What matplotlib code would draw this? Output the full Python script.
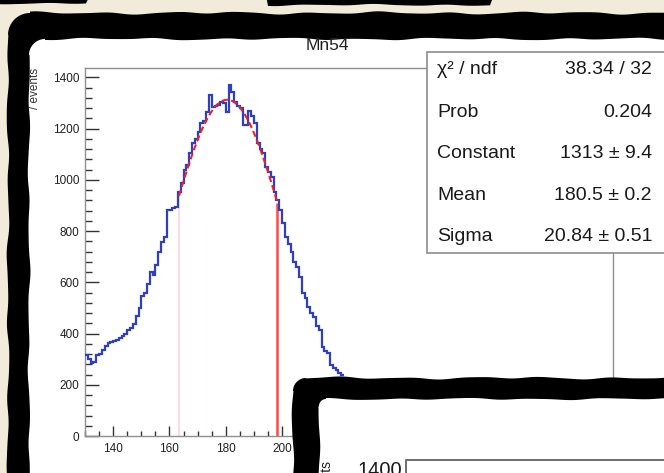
import numpy as np
import matplotlib
matplotlib.use("Agg")
import matplotlib.pyplot as plt
from matplotlib.patches import Polygon, Rectangle
from matplotlib.ticker import MultipleLocator

# ---------------- data ----------------
title = "Mn54"
bin_lo = 130          # first bin lower edge
bin_width = 1
counts = [316, 300, 285, 290, 318, 322, 335, 350, 362, 368,
          372, 374, 382, 392, 398, 412, 420, 437, 470, 500,
          548, 560, 592, 640, 628, 668, 718, 757, 776, 881,
          884, 889, 893, 952, 987, 1037, 1060, 1104, 1143, 1160,
          1186, 1221, 1230, 1264, 1330, 1283, 1290, 1291, 1303, 1300,
          1264, 1369, 1342, 1303, 1290, 1279, 1213, 1213, 1271, 1250,
          1221, 1143, 1120, 1104, 1049, 1030, 1010, 952, 920, 881,
          831, 776, 750, 718, 680, 659, 620, 558, 540, 503,
          480, 464, 430, 413, 347, 330, 324, 277, 265, 257,
          246, 240]
fit_constant = 1313
fit_mean = 180.5
fit_sigma = 20.84
fit_range = [163.4, 198.3]
stats_labels = ["χ² / ndf", "Prob", "Constant", "Mean", "Sigma"]
stats_values = ["38.34 / 32", "0.204", "1313 ± 9.4", "180.5 ± 0.2", "20.84 ± 0.51"]
x_ticks = [140, 160, 180, 200, 220, 240, 260, 280, 300]
y_ticks = [0, 200, 400, 600, 800, 1000, 1200, 1400]
y_title = "/ events"
panel2_label = "1400"
panel2_ytitle = "counts"

W, H = 664, 473
BEIGE = "#f3ebda"
BLUE = "#2f3fc2"
RED = "#ee2222"

fig = plt.figure(figsize=(W / 100, H / 100), dpi=100, facecolor=BEIGE)

def px_axes(zorder):
    a = fig.add_axes([0, 0, 1, 1], zorder=zorder)
    a.set_xlim(0, W)
    a.set_ylim(H, 0)
    a.axis("off")
    a.patch.set_alpha(0)
    return a

def wobble(t, ph, amp):
    return amp * (0.6 * np.sin(t / 11.0 + ph) + 0.4 * np.sin(t / 27.0 + 2 * ph)
                  + 0.15 * np.sin(t / 6.0 + 3 * ph))

def frame_poly(x0, y0, r, amp, ph, xmax=720, ymax=540):
    pts = []
    ys = np.linspace(ymax, y0 + r, 120)
    for y in ys:
        pts.append((x0 + wobble(y, ph, amp), y))
    th = np.linspace(np.pi, 1.5 * np.pi, 20)
    for t in th:
        pts.append((x0 + r + r * np.cos(t), y0 + r + r * np.sin(t)))
    xs = np.linspace(x0 + r, xmax, 200)
    for x in xs:
        pts.append((x, y0 + wobble(x, ph + 1.3, amp)))
    pts.append((xmax, ymax))
    return pts

# ---------------- background layer ----------------
bg = px_axes(0)
bg.add_patch(Polygon(frame_poly(8, 13, 22, 1.5, 0.3), closed=True, fc="black", ec="none"))
bg.add_patch(Polygon(frame_poly(29, 39, 16, 1.3, 2.1), closed=True, fc="white", ec="none"))
# black bits along the very top edge
top1 = [(0, -5)] + [(x, 3.5 + wobble(x, 0.7, 0.8)) for x in np.linspace(0, 86, 30)] + [(90, -5)]
top2 = [(266, -5)] + [(x, 5 + wobble(x, 1.9, 1.0)) for x in np.linspace(268, 490, 60)] + [(494, -5)]
bg.add_patch(Polygon(top1, closed=True, fc="black", ec="none"))
bg.add_patch(Polygon(top2, closed=True, fc="black", ec="none"))

# ---------------- main histogram ----------------
ax = fig.add_axes([85 / W, 37 / H, 528 / W, 368 / H], zorder=1)
ax.patch.set_alpha(0)
edges = bin_lo + bin_width * np.arange(len(counts) + 1)
ax.stairs(counts, edges, color=BLUE, lw=1.6, baseline=None, zorder=3)

def gaus(x):
    return fit_constant * np.exp(-0.5 * ((x - fit_mean) / fit_sigma) ** 2)

xf = np.linspace(fit_range[0], fit_range[1], 200)
ax.vlines(fit_range[0], 0, gaus(fit_range[0]), color="#ffd4d4", lw=1.2, zorder=2)
ax.vlines(fit_range[1], 0, gaus(fit_range[1]), color="#ff4848", lw=1.8, zorder=2)
ax.plot(xf, gaus(xf), color=RED, lw=1.5, ls=(0, (3, 1.6)), zorder=4)

ax.set_xlim(130, 317.5)
ax.set_ylim(0, 1437)
ax.set_xticks(x_ticks)
ax.set_yticks(y_ticks)
ax.xaxis.set_minor_locator(MultipleLocator(5))
ax.yaxis.set_minor_locator(MultipleLocator(40))
for s in ax.spines.values():
    s.set_color("#8f8f8f")
    s.set_linewidth(1.0)
ax.tick_params(which="both", direction="in", colors="#333333", labelcolor="#222222",
               top=False, right=False)
ax.tick_params(axis="y", which="major", length=10, width=1.0, pad=4, labelsize=8.5)
ax.tick_params(axis="y", which="minor", length=5, width=1.0)
ax.tick_params(axis="x", which="major", length=7, width=1.0, pad=5, labelsize=8.5)
ax.tick_params(axis="x", which="minor", length=3.5, width=1.0)
for lab in ax.get_xticklabels() + ax.get_yticklabels():
    lab.set_fontfamily("Liberation Sans")

# ---------------- overlay layer ----------------
ov = px_axes(5)
ov.text(327, 45, title, ha="center", va="center", fontsize=12.5,
        family="Liberation Sans", color="#222222")
ov.text(35, 68, y_title, rotation=90, ha="center", va="top", fontsize=8.5,
        family="Liberation Sans", color="#333333")

# stats box
ov.add_patch(Rectangle((427, 52), 260, 201, fc="white", ec="#8c8c8c", lw=1.2))
row_y = [70, 112, 153, 195, 236]
for lab, val, yy in zip(stats_labels, stats_values, row_y):
    ov.text(437, yy, lab, ha="left", va="center", fontsize=14,
            family="Liberation Sans", color="#1a1a1a")
    ov.text(652, yy, val, ha="right", va="center", fontsize=14,
            family="Liberation Sans", color="#1a1a1a")

# second (overlapping) panel
ov.add_patch(Polygon(frame_poly(293, 378, 13, 1.4, 4.2), closed=True, fc="black", ec="none"))
ov.add_patch(Polygon(frame_poly(319, 399, 7, 1.1, 5.0), closed=True, fc="white", ec="none"))
ov.plot([406, 406, 700], [520, 460, 460], color="#6e6e6e", lw=1.4)
ov.text(402, 461, panel2_label, ha="right", va="top", fontsize=14.5,
        family="Liberation Sans", color="#1a1a1a")
ov.text(326, 460, panel2_ytitle, rotation=90, ha="center", va="top", fontsize=10,
        family="Liberation Sans", color="#1a1a1a")

fig.savefig("out.png", dpi=100, facecolor=BEIGE)
